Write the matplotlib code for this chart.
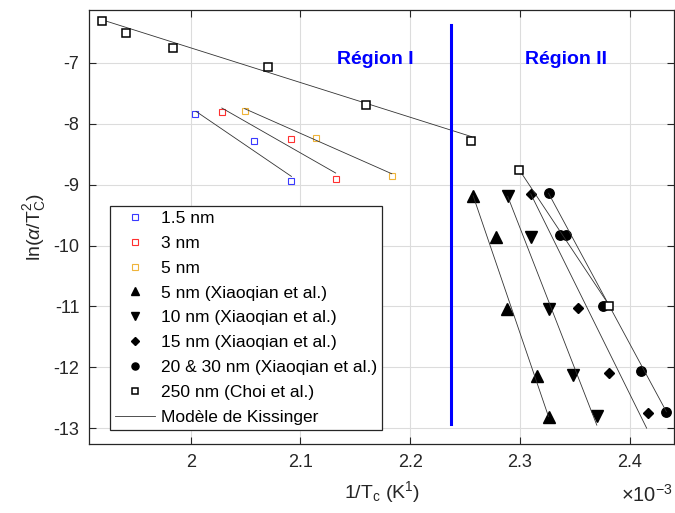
import numpy as np
import matplotlib
matplotlib.use("Agg")
from matplotlib import pyplot as plt

plt.rcParams['font.family'] = ['Liberation Sans', 'DejaVu Sans']
plt.rcParams['mathtext.fontset'] = 'custom'
plt.rcParams['mathtext.rm'] = 'Liberation Sans'
plt.rcParams['mathtext.it'] = 'Liberation Sans:italic'
plt.rcParams['axes.unicode_minus'] = False

# x values in units of 1e-3 K^-1 (as on the axis), y = ln(alpha/Tc^2)
x_15nm = [2.0039, 2.0577, 2.0918]
y_15nm = [-7.833, -8.289, -8.946]
x_3nm = [2.0284, 2.0918, 2.1321]
y_3nm = [-7.806, -8.249, -8.907]
x_5nm = [2.0492, 2.1145, 2.1834]
y_5nm = [-7.784, -8.228, -8.858]

x_x5 = [2.2573, 2.2784, 2.2885, 2.3153, 2.3260]
y_x5 = [-9.181, -9.855, -11.039, -12.136, -12.810]
x_x10 = [2.2888, 2.3098, 2.3260, 2.3480, 2.3700]
y_x10 = [-9.193, -9.861, -11.044, -12.124, -12.798]
x_x15 = [2.3098, 2.3532, 2.3810, 2.4163]
y_x15 = [-9.154, -11.018, -12.086, -12.744]
x_x2030 = [2.3260, 2.3364, 2.3419, 2.3757, 2.4100, 2.4334]
y_x2030 = [-9.137, -9.823, -9.823, -10.985, -12.058, -12.727]

x_choi = [1.9191, 1.9414, 1.9842, 2.0705, 2.1600, 2.2558, 2.2995, 2.3812]
y_choi = [-6.305, -6.507, -6.753, -7.072, -7.686, -8.289, -8.759, -10.985]

# Kissinger fit lines (end points)
fit_x = [[2.0049, 2.0918], [2.0284, 2.1321], [2.0492, 2.1832],
         [1.9191, 2.2558], [2.2995, 2.3812],
         [2.2573, 2.3260], [2.2888, 2.3700], [2.3098, 2.4154], [2.3260, 2.4334]]
fit_y = [[-7.796, -8.864], [-7.740, -8.808], [-7.751, -8.820],
         [-6.29, -8.21], [-8.76, -10.98],
         [-9.18, -12.81], [-9.19, -12.95], [-9.15, -13.00], [-9.14, -12.73]]

region_x = 2.2372
region_y = [-6.37, -12.93]

fig = plt.figure(figsize=(6.75, 5.13), dpi=100)
ax = fig.add_axes([0.132, 0.1345, 0.867, 0.846])

ax.plot(x_15nm, y_15nm, 's', ls='none', mfc='none', mec='#3a3aff', mew=0.8, ms=5, label='1.5 nm')
ax.plot(x_3nm, y_3nm, 's', ls='none', mfc='none', mec='#ff3030', mew=0.8, ms=5, label='3 nm')
ax.plot(x_5nm, y_5nm, 's', ls='none', mfc='none', mec='#efb43a', mew=0.8, ms=5, label='5 nm')
ax.plot(x_x5, y_x5, '^', ls='none', color='k', ms=8, label='5 nm (Xiaoqian et al.)')
ax.plot(x_x10, y_x10, 'v', ls='none', color='k', ms=8, label='10 nm (Xiaoqian et al.)')
ax.plot(x_x15, y_x15, 'D', ls='none', color='k', ms=5.5, label='15 nm (Xiaoqian et al.)')
ax.plot(x_x2030, y_x2030, 'o', ls='none', color='k', ms=6.8, label='20 & 30 nm (Xiaoqian et al.)')
ax.plot(x_choi, y_choi, 's', ls='none', mfc='white', mec='k', mew=1.1, ms=5.5, label='250 nm (Choi et al.)', zorder=4)

for i in range(len(fit_x)):
    ax.plot(fit_x[i], fit_y[i], '-', color='#333333', lw=0.6,
            label='Modèle de Kissinger' if i == 0 else None)

ax.plot([region_x, region_x], region_y, '-', color='#0000ff', lw=2.2)
ax.text(2.1685, -6.946, 'Région I', color='#0000ff', fontsize=14, fontweight='bold',
        ha='center', va='center')
ax.text(2.3416, -6.946, 'Région II', color='#0000ff', fontsize=14, fontweight='bold',
        ha='center', va='center')

ax.set_xlim(1.9075, 2.4406)
ax.set_ylim(-13.26, -6.13)
ax.set_xticks([2.0, 2.1, 2.2, 2.3, 2.4])
ax.set_xticklabels(['2', '2.1', '2.2', '2.3', '2.4'])
ax.set_yticks([-13, -12, -11, -10, -9, -8, -7])
ax.tick_params(direction='in', top=True, right=True, labelsize=13, length=5,
               width=0.8, color='#262626', labelcolor='#262626', pad=7)
for s in ax.spines.values():
    s.set_color('#262626')
    s.set_linewidth(0.9)
ax.grid(True, color='#dcdcdc', lw=0.8)
ax.set_axisbelow(True)

ax.set_xlabel(r'1/T$_\mathregular{c}$ (K$^\mathregular{1}$)', fontsize=14, color='#262626', labelpad=6)
ax.set_ylabel(r'ln($\alpha$/T$_\mathregular{C}^\mathregular{2}$)', fontsize=14, color='#262626', labelpad=4)
fig.text(0.997, 0.035, r'$\mathregular{\times 10^{-3}}$', fontsize=14.5, color='#262626', ha='right', va='center')

leg = ax.legend(loc='lower left', bbox_to_anchor=(0.036, 0.032), fontsize=12.5,
                frameon=True, fancybox=False, edgecolor='#262626', framealpha=1,
                handlelength=2.3, handletextpad=0.3, labelspacing=0.56, borderpad=0.3,
                borderaxespad=0, markerscale=0.75)
leg.get_frame().set_linewidth(0.9)

fig.savefig('out.png', dpi=100)
